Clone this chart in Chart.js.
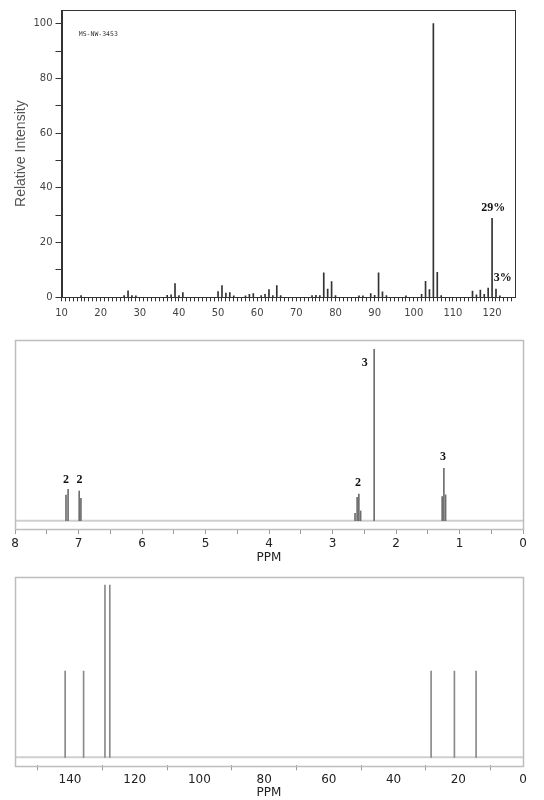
<!DOCTYPE html>
<html><head><meta charset="utf-8">
<script src="https://cdn.jsdelivr.net/npm/chart.js@4/dist/chart.umd.min.js"></script>
<style>
html,body{margin:0;padding:0;background:#fff;width:544px;height:800px;overflow:hidden}
.box{position:absolute;left:0;width:544px}
</style></head><body>
<div class="box" style="top:0;height:325px"><canvas id="ms"></canvas></div>
<div class="box" style="top:330px;height:235px"><canvas id="h1"></canvas></div>
<div class="box" style="top:565px;height:235px"><canvas id="c13"></canvas></div>
<script>
// ---------- Mass spectrum ----------
const msMz = [15,26,27,28,29,37,38,39,40,41,50,51,52,53,54,57,58,59,61,62,63,64,65,66,74,75,76,77,78,79,80,86,87,89,90,91,92,93,98,102,103,104,105,106,107,115,116,117,118,119,120,121,122];
const msIntensity = [0.6,0.6,2.4,0.6,0.5,0.7,0.9,5.0,0.6,1.7,2.1,4.3,1.5,1.7,0.5,0.5,1.1,1.4,0.6,1.1,2.8,0.6,4.3,0.6,0.6,0.7,0.6,8.9,3.0,5.7,0.6,0.5,0.5,1.4,0.7,8.9,2.0,0.6,0.5,1.1,5.8,2.8,100,9.1,0.6,2.3,0.9,2.6,1.1,3.4,28.9,3.0,0.5];
const msXTickLabels = [10,20,30,40,50,60,70,80,90,100,110,120];
const msYTickLabels = [0,20,40,60,80,100];
const msAnnotText = ['29%','3%'];
const msAnnotX = [120.3,122.7];
const msAnnotY = [32.8,7.0];
const msSampleId = 'MS-NW-3453';

// ---------- 1H NMR ----------
const h1Ppm = [7.197,7.164,6.989,6.962,2.645,2.612,2.585,2.557,2.344,1.273,1.246,1.219];
const h1Height = [15,18.3,17.3,13,4.3,13.7,15.6,5.7,100,14,30.5,15.1];
const h1TickLabels = [8,7,6,5,4,3,2,1,0];
const h1AnnotText = ['2','2','2','3','3'];
const h1AnnotPpm = [7.197,6.984,2.597,2.493,1.258];
const h1AnnotY = [23.7,23.7,21.8,91.8,37.0];

// ---------- 13C NMR ----------
const c13Ppm = [141.5,135.8,129.2,127.7,28.4,21.2,14.5];
const c13Height = [50,50,100,100,50,50,50];
const c13TickLabels = [140,120,100,80,60,40,20,0];

// ---------- helpers ----------
function range(a,b,step){const r=[];for(let v=a;v<=b+1e-9;v+=step)r.push(Math.round(v*100)/100);return r;}
const boxPlugin = {
  id:'box',
  afterDraw(chart,args,opts){
    const {ctx,chartArea:a}=chart;
    ctx.save();ctx.strokeStyle=opts.color;ctx.lineWidth=opts.width;
    ctx.strokeRect(Math.round(a.left)+0.5,Math.round(a.top)+0.5,Math.round(a.right-a.left),Math.round(a.bottom-a.top));
    ctx.restore();
  }
};
const baselinePlugin = {
  id:'baseline',
  beforeDatasetsDraw(chart,args,opts){
    if(!opts.color)return;
    const {ctx,chartArea:a,scales:{y}}=chart;
    const py=y.getPixelForValue(0);
    ctx.save();ctx.strokeStyle=opts.color;ctx.lineWidth=opts.width;
    ctx.beginPath();ctx.moveTo(a.left,py);ctx.lineTo(a.right,py);ctx.stroke();ctx.restore();
  }
};
const textPlugin = {
  id:'texts',
  afterDatasetsDraw(chart,args,opts){
    const {ctx,scales:{x,y}}=chart;
    (opts.items||[]).forEach(it=>{
      ctx.save();ctx.font=it.font;ctx.fillStyle=it.color;ctx.textAlign=it.align||'center';ctx.textBaseline='middle';
      ctx.fillText(it.text,x.getPixelForValue(it.x),y.getPixelForValue(it.y));
      ctx.restore();
    });
  }
};
Chart.defaults.animation=false;
Chart.defaults.font.family='"DejaVu Sans", sans-serif';

// ---------- MS chart ----------
const msItems = msAnnotText.map((t,i)=>({text:t,x:msAnnotX[i],y:msAnnotY[i],font:'bold 12px "Liberation Serif"',color:'#111'}));
msItems.push({text:msSampleId,x:14.4,y:96.2,font:'6.5px "DejaVu Sans Mono"',color:'#333',align:'left'});
new Chart(document.getElementById('ms'),{
  type:'bar',
  data:{datasets:[{data:msMz.map((m,i)=>({x:m,y:msIntensity[i]})),backgroundColor:'#333',borderWidth:0,barThickness:1,grouped:false}]},
  options:{
    responsive:true,maintainAspectRatio:false,
    layout:{padding:{top:10,right:30,left:0,bottom:0}},
    plugins:{legend:{display:false},tooltip:{enabled:false},box:{color:'#333',width:1},baseline:{},texts:{items:msItems}},
    scales:{
      x:{type:'linear',min:10,max:125.6,offset:false,
        afterBuildTicks:s=>{s.ticks=range(10,125,1).map(v=>({value:v}));},
        ticks:{autoSkip:false,maxRotation:0,padding:6,color:'#444',font:{size:10},
          callback:v=>msXTickLabels.includes(v)?String(v):''},
        grid:{drawOnChartArea:false,offset:false,tickLength:4,color:'#333'},
        border:{color:'#333'},
        afterFit:s=>{s.height=27.7;}
      },
      y:{min:0,max:105,
        afterBuildTicks:s=>{s.ticks=range(0,100,10).map(v=>({value:v}));},
        ticks:{padding:3,color:'#444',font:{size:10},callback:v=>msYTickLabels.includes(v)?String(v):''},
        grid:{drawOnChartArea:false,tickLength:6,color:'#333'},
        border:{color:'#333'},
        title:{display:true,text:'Relative Intensity',color:'#555',font:{family:'"Liberation Sans"',size:14},padding:{top:13,bottom:0}},
        afterFit:s=>{s.width=61.5;}
      }
    }
  },
  plugins:[boxPlugin,baselinePlugin,textPlugin]
});

// ---------- 1H chart ----------
const h1Items = h1AnnotText.map((t,i)=>({text:t,x:h1AnnotPpm[i],y:h1AnnotY[i],font:'bold 12px "Liberation Serif"',color:'#111'}));
new Chart(document.getElementById('h1'),{
  type:'bar',
  data:{datasets:[{data:h1Ppm.map((p,i)=>({x:p,y:h1Height[i]})),backgroundColor:'#6e6e6e',borderWidth:0,barThickness:1,grouped:false}]},
  options:{
    responsive:true,maintainAspectRatio:false,
    layout:{padding:{top:10,right:21,left:15,bottom:0}},
    plugins:{legend:{display:false},tooltip:{enabled:false},box:{color:'#bdbdbd',width:1.5},baseline:{color:'#cfcfcf',width:2},texts:{items:h1Items}},
    scales:{
      x:{type:'linear',reverse:true,min:0,max:8,offset:false,
        afterBuildTicks:s=>{s.ticks=range(0,8,0.5).map(v=>({value:v}));},
        ticks:{autoSkip:false,maxRotation:0,padding:3,color:'#222',font:{size:12},
          callback:v=>h1TickLabels.includes(v)?String(v):''},
        grid:{drawOnChartArea:false,offset:false,tickLength:5,color:'#999'},
        border:{display:false},
        title:{display:true,text:'PPM',color:'#222',font:{size:12},padding:{top:1,bottom:0}},
        afterFit:s=>{s.height=36;}
      },
      y:{display:false,min:-4.84,max:105.4}
    }
  },
  plugins:[boxPlugin,baselinePlugin,textPlugin]
});

// ---------- 13C chart ----------
new Chart(document.getElementById('c13'),{
  type:'bar',
  data:{datasets:[{data:c13Ppm.map((p,i)=>({x:p,y:c13Height[i]})),backgroundColor:'#8a8a8a',borderWidth:0,barThickness:1,grouped:false}]},
  options:{
    responsive:true,maintainAspectRatio:false,
    layout:{padding:{top:11.7,right:21,left:15,bottom:0}},
    plugins:{legend:{display:false},tooltip:{enabled:false},box:{color:'#bdbdbd',width:1.5},baseline:{color:'#cfcfcf',width:2},texts:{items:[]}},
    scales:{
      x:{type:'linear',reverse:true,min:0,max:157,offset:false,
        afterBuildTicks:s=>{s.ticks=range(0,150,10).map(v=>({value:v}));},
        ticks:{autoSkip:false,maxRotation:0,padding:2,color:'#222',font:{size:12},
          callback:v=>c13TickLabels.includes(v)?String(v):''},
        grid:{drawOnChartArea:false,offset:false,tickLength:5,
          color:c=>(c.tick&&c.tick.value%20===0)?'rgba(0,0,0,0)':'#999'},
        border:{display:false},
        title:{display:true,text:'PPM',color:'#222',font:{size:12},padding:{top:4,bottom:0}},
        afterFit:s=>{s.height=34.7;}
      },
      y:{display:false,min:-4.64,max:104.8}
    }
  },
  plugins:[boxPlugin,baselinePlugin,textPlugin]
});
</script>
</body></html>
